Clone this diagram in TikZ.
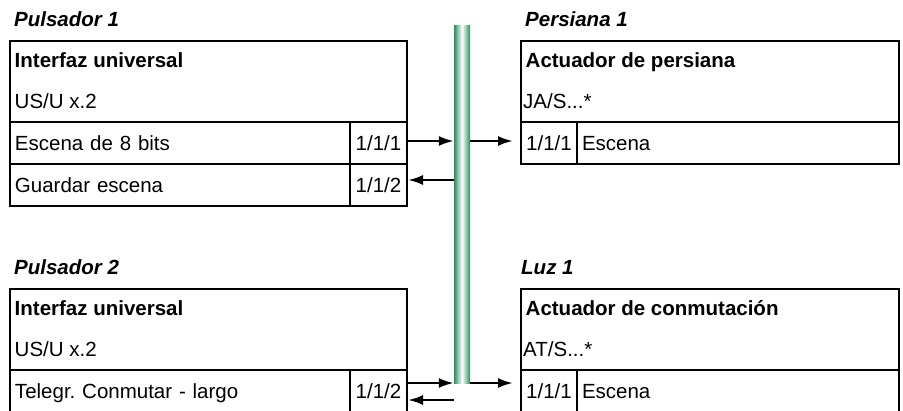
\documentclass[tikz,border=0pt]{standalone}
\usepackage{fontspec}
\setmainfont{Liberation Sans}
\usetikzlibrary{arrows.meta,positioning}
\definecolor{busgreen}{RGB}{40,145,95}
\newcommand{\diafont}{\fontsize{20.5}{24}\selectfont}
\frenchspacing
\tikzset{%
	devname/.style = {font=\diafont\bfseries\itshape, anchor=base west, inner sep=0pt}, % device title
	hdr/.style     = {draw, rectangle, line width=2pt, outer sep=0pt, anchor=north west, minimum height=81.5pt, inner sep=0pt},
	hdrtext/.style = {anchor=base west, inner sep=0pt},
	cell/.style    = {draw, rectangle, line width=2pt, outer sep=0pt, inner ysep=0pt, inner xsep=5pt, minimum height=42pt, text height=17pt, text depth=2pt},
	fn/.style      = {cell, text width=#1, align=left}, % function
	ga/.style      = {cell, minimum width=57pt}, % group address
	bus/.style     = {rectangle, minimum width=16pt, minimum height=358pt, inner sep=0pt, left color=busgreen, right color=busgreen, middle color=white},
	sig/.style     = {line width=2.4pt, ->},
}

\begin{document}
\begin{tikzpicture}[x=1pt, y=-1pt, >={Latex[length=15pt,width=10pt]}, every node/.append style={font=\diafont}]
	\useasboundingbox (0,0) rectangle (903,410);
	% Pulsador 1
	\node [hdr, minimum width=397pt] (hA) at (10,40.5) {};
	\node [devname] (pA) at ([shift={(4pt,14.5pt)}]hA.north west) {Pulsador 1};
	\node [hdrtext, font=\diafont\bfseries] (tA) at ([shift={(4.5pt,-27pt)}]hA.north west) {Interfaz universal};
	\node [hdrtext] (mA) at ([shift={(4.5pt,-67.5pt)}]hA.north west) {US/U x.2};
	\node [fn=330pt, anchor=north west] (fA1) at (hA.south west) {Escena de 8 bits};
	\node [ga, right=0pt of fA1] (gA1) {1/1/1};
	\node [fn=330pt, below=0pt of fA1] (fA2) {Guardar escena};
	\node [ga, right=0pt of fA2] (gA2) {1/1/2};
	
	% Persiana 1
	\node [hdr, minimum width=378pt] (hB) at (521,40.5) {};
	\node [devname] (pB) at ([shift={(4pt,14.5pt)}]hB.north west) {Persiana 1};
	\node [hdrtext, font=\diafont\bfseries] (tB) at ([shift={(4.5pt,-27pt)}]hB.north west) {Actuador de persiana};
	\node [hdrtext] (mB) at ([shift={(2pt,-67.5pt)}]hB.north west) {JA/S...*};
	\node [ga, minimum width=56pt, anchor=north west] (gB1) at (hB.south west) {1/1/1};
	\node [fn=312pt, right=0pt of gB1] (fB1) {Escena};
	
	% Pulsador 2
	\node [hdr, minimum width=397pt] (hC) at (10,288.5) {};
	\node [devname] (pC) at ([shift={(4pt,14.5pt)}]hC.north west) {Pulsador 2};
	\node [hdrtext, font=\diafont\bfseries] (tC) at ([shift={(4.5pt,-27pt)}]hC.north west) {Interfaz universal};
	\node [hdrtext] (mC) at ([shift={(4.5pt,-67.5pt)}]hC.north west) {US/U x.2};
	\node [fn=330pt, anchor=north west] (fC1) at (hC.south west) {Telegr. Conmutar - largo};
	\node [ga, right=0pt of fC1] (gC1) {1/1/2};
	
	% Luz 1
	\node [hdr, minimum width=378pt] (hD) at (521,288.5) {};
	\node [devname] (pD) at ([shift={(0pt,14.5pt)}]hD.north west) {Luz 1};
	\node [hdrtext, font=\diafont\bfseries] (tD) at ([shift={(4.5pt,-27pt)}]hD.north west) {Actuador de conmutación};
	\node [hdrtext] (mD) at ([shift={(2pt,-67.5pt)}]hD.north west) {AT/S...*};
	\node [ga, minimum width=56pt, anchor=north west] (gD1) at (hD.south west) {1/1/1};
	\node [fn=312pt, right=0pt of gD1] (fD1) {Escena};
	
	% bus line
	\node [bus] (bus) at (462,204) {};
	
	\draw [sig] ([yshift=2pt]gA1.east) -- ([yshift=2pt]gA1.east -| bus.west);
	\draw [sig, shorten >=8pt] ([yshift=2pt]bus.east |- gB1.west) -- ([yshift=2pt]gB1.west);
	\draw [sig, shorten >=1pt] ([yshift=5pt]bus.west |- gA2.east) -- ([yshift=5pt]gA2.east);
	\draw [sig] ([yshift=8pt]gC1.east) -- ([yshift=8pt]gC1.east -| bus.west);
	\draw [sig, shorten >=1pt] ([yshift=-9pt]bus.west |- gC1.east) -- ([yshift=-9pt]gC1.east);
	\draw [sig, shorten >=8pt] ([yshift=8pt]bus.east |- gD1.west) -- ([yshift=8pt]gD1.west);
\end{tikzpicture}
\end{document}
